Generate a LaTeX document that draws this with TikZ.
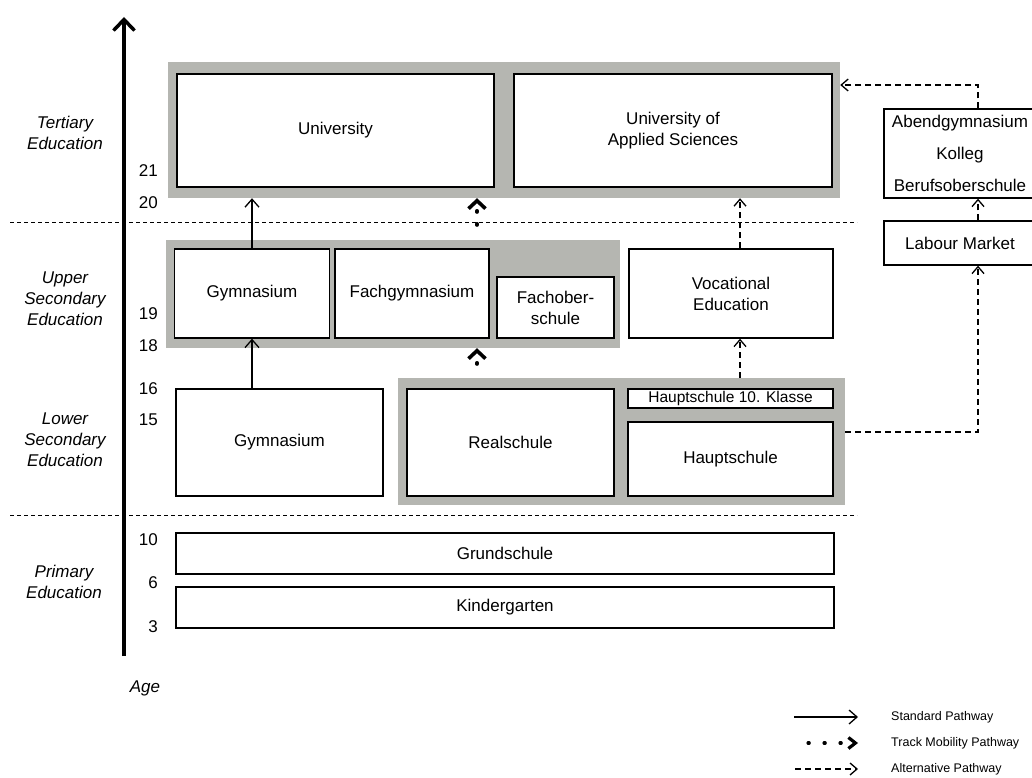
\documentclass[tikz,border=0pt]{standalone}
\usepackage{fontspec}
\setmainfont{Liberation Sans}
\usetikzlibrary{arrows.meta}
\definecolor{framegrey}{RGB}{181,182,177}
\begin{document}
\begin{tikzpicture}[x=1pt,y=-1pt,
  every node/.style={font=\fontsize{17}{21}\selectfont, inner sep=0pt},
  frame/.style={fill=framegrey, draw=none, rectangle},
  schoolbox/.style={draw=black, fill=white, line width=1.3pt, rectangle, align=center},
  stdarrow/.style={line width=1.3pt, -{Straight Barb[length=8pt,width=14pt]}},
  altarrow/.style={line width=1.3pt, dash pattern=on 6pt off 4pt, -{Straight Barb[length=7pt,width=12pt]}},
  trackarrow/.style={line width=3.6pt, line cap=round, dash pattern=on 1.2pt off 11.8pt, -{Straight Barb[length=8pt,width=17pt]}},
  legtrack/.style={line width=3.2pt, line cap=round, dash pattern=on 1.2pt off 14.8pt, -{Straight Barb[length=7pt,width=11pt]}},
  sepline/.style={line width=0.9pt, dash pattern=on 4pt off 3pt},
  agelabel/.style={anchor=east},
  stagelabel/.style={align=center, font=\itshape\fontsize{17}{21}\selectfont},
  legtext/.style={anchor=west, font=\fontsize{12.5}{15}\selectfont},
]
\useasboundingbox (0,0) rectangle (1032,778);

% separators
\coordinate (s1a) at (10,222); \coordinate (s1b) at (857,222);
\coordinate (s2a) at (10,515); \coordinate (s2b) at (857,515);
\draw[sepline] (s1a) -- (s1b);
\draw[sepline] (s2a) -- (s2b);

% grey frames
\node[frame, minimum width=672pt, minimum height=136pt] (tert) at (504,130) {};
\node[frame, minimum width=454pt, minimum height=108pt] (upper) at (393,294) {};
\node[frame, minimum width=447pt, minimum height=127pt] (lower) at (621.5,441.5) {};

% boxes
\node[schoolbox, minimum width=317pt, minimum height=113pt] (uni) at (335.5,130.5) {University};
\node[schoolbox, minimum width=318pt, minimum height=113pt] (uas) at (673,130.5) {University of\\Applied Sciences};
\node[schoolbox, minimum width=155.5pt, minimum height=89pt] (gymU) at (252,293.5) {Gymnasium};
\node[schoolbox, minimum width=154pt, minimum height=89pt] (fachgym) at (412,293.5) {Fachgymnasium};
\node[schoolbox, minimum width=117pt, minimum height=61pt] (fos) at (555.5,307.5) {Fachober-\\schule};
\node[schoolbox, minimum width=204pt, minimum height=89pt] (voc) at (731,293.5) {Vocational\\Education};
\node[schoolbox, minimum width=207pt, minimum height=107pt] (gymL) at (279.5,442.5) {Gymnasium};
\node[schoolbox, minimum width=207pt, minimum height=107pt] (real) at (510.5,442.5) {Realschule};
\node[schoolbox, minimum width=205pt, minimum height=19pt, font=\fontsize{15.5}{18}\selectfont] (hs10) at (730.5,398.5) {Hauptschule 10. Klasse};
\node[schoolbox, minimum width=205pt, minimum height=74pt] (hs) at (730.5,459) {Hauptschule};
\node[schoolbox, minimum width=658pt, minimum height=41pt] (grund) at (505,553.5) {Grundschule};
\node[schoolbox, minimum width=658pt, minimum height=41pt] (kiga) at (505,607.5) {Kindergarten};
\node[schoolbox, minimum width=152pt, minimum height=89pt] (abend) at (960,153.5) {Abendgymnasium\\[11pt]Kolleg\\[11pt]Berufsoberschule};
\node[schoolbox, minimum width=152pt, minimum height=44pt] (labour) at (960,243) {Labour Market};

% axis
\coordinate (axb) at (124,656); \coordinate (axt) at (124,17);
\draw[line width=3.5pt, -{Straight Barb[length=11pt,width=21pt]}] (axb) -- (axt);

% stage labels
\node[stagelabel] (tertlab) at (65,133) {Tertiary\\Education};
\node[stagelabel] (upplab) at (65,299) {Upper\\Secondary\\Education};
\node[stagelabel] (lowlab) at (65,440) {Lower\\Secondary\\Education};
\node[stagelabel] (primlab) at (64,582) {Primary\\Education};
\node[stagelabel] (agelab) at (145,688) {Age};

% ages
\node[agelabel] (a21) at (158,171) {21};
\node[agelabel] (a20) at (158,203) {20};
\node[agelabel] (a19) at (158,314) {19};
\node[agelabel] (a18) at (158,346) {18};
\node[agelabel] (a16) at (158,389) {16};
\node[agelabel] (a15) at (158,420) {15};
\node[agelabel] (a10) at (158,540) {10};
\node[agelabel] (a6) at (158,583) {6};
\node[agelabel] (a3) at (158,627) {3};

% standard pathways
\draw[stdarrow] (gymU.north) -- (gymU.north |- tert.south);
\draw[stdarrow] (gymU.south |- gymL.north) -- (gymU.south);

% alternative pathways
\coordinate (vx) at (740,0);
\coordinate (rx) at (978,0);
\coordinate (hy) at (0,432);
\coordinate (ty) at (0,85);
\draw[altarrow] (vx |- voc.north) -- (vx |- tert.south);
\draw[altarrow] (vx |- lower.north) -- (vx |- voc.south);
\draw[altarrow] (lower.east |- hy) -- (rx |- hy) -- (rx |- labour.south);
\draw[altarrow] (rx |- labour.north) -- (rx |- abend.south);
\draw[altarrow] (rx |- abend.north) -- (rx |- ty) -- (tert.east |- ty);

% track mobility
\coordinate (t1s) at (477,225);
\coordinate (t2s) at (477,364);
\draw[trackarrow] (t1s) -- (t1s |- tert.south);
\draw[trackarrow] (t2s) -- (t2s |- upper.south);

% legend
\coordinate (l1a) at (794,717); \coordinate (l1b) at (858,717);
\coordinate (l2a) at (808,743); \coordinate (l2b) at (858,743);
\coordinate (l3a) at (795,769); \coordinate (l3b) at (858,769);
\draw[stdarrow] (l1a) -- (l1b);
\draw[legtrack] (l2a) -- (l2b);
\draw[altarrow] (l3a) -- (l3b);
\node[legtext] (lt1) at (891,717) {Standard Pathway};
\node[legtext] (lt2) at (891,743) {Track Mobility Pathway};
\node[legtext] (lt3) at (891,769) {Alternative Pathway};
\end{tikzpicture}
\end{document}
